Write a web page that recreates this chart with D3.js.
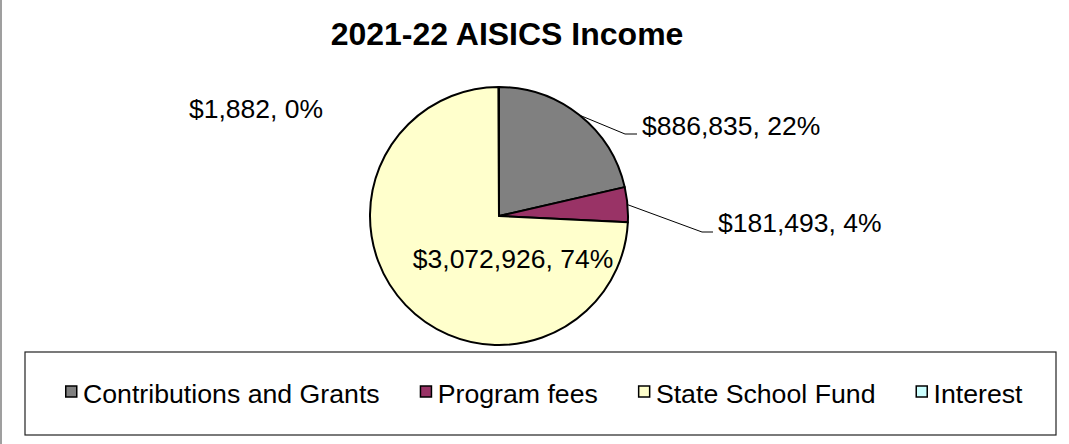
<!DOCTYPE html>
<html>
<head>
<meta charset="utf-8">
<script src="https://cdn.jsdelivr.net/npm/d3@7"></script>
<style>
  html, body { margin: 0; padding: 0; background: #fff; }
  svg { display: block; font-family: "Liberation Sans", Arial, sans-serif; }
</style>
</head>
<body>
<svg id="chart" width="1069" height="444"></svg>
<script>
// ---- data ----
const categories = ["Contributions and Grants", "Program fees", "State School Fund", "Interest"];
const values = [886835, 181493, 3072926, 1882];
const colors = ["#808080", "#993366", "#FFFFCC", "#CCFFFF"];
const title = "2021-22 AISICS Income";

// ---- layout ----
const W = 1069, H = 444;
const cx = 499, cy = 216, R = 129;
const svg = d3.select("#chart");

// outer chart border (only left edge visible)
svg.append("line").attr("x1", 1).attr("x2", 1).attr("y1", 0).attr("y2", H)
  .attr("stroke", "#7f7f7f").attr("stroke-width", 1.5);

svg.append("text").attr("x", 507).attr("y", 45)
  .attr("text-anchor", "middle").attr("font-weight", "bold")
  .attr("font-size", 32).attr("fill", "#000").text(title);

// percentages (largest remainder so they sum to 100)
const total = d3.sum(values);
const raw = values.map(v => v / total * 100);
const pct = raw.map(Math.floor);
let remaining = 100 - d3.sum(pct);
const order = d3.range(values.length).sort((a, b) => (raw[b] - pct[b]) - (raw[a] - pct[a]));
for (let k = 0; k < remaining; k++) pct[order[k]] += 1;
const fmt = d3.format("$,");
const labelText = values.map((v, i) => `${fmt(v)}, ${pct[i]}%`);

const pie = d3.pie().sort(null).value(d => d).startAngle(0).endAngle(2 * Math.PI);
const arcs = pie(values);
const arc = d3.arc().innerRadius(0).outerRadius(R);

const g = svg.append("g").attr("transform", `translate(${cx},${cy})`);
g.selectAll("path.slice").data(arcs).join("path")
  .attr("class", "slice")
  .attr("d", arc)
  .attr("fill", (d, i) => colors[i])
  .attr("stroke", "#000").attr("stroke-width", 2).attr("stroke-linejoin", "round");

// label placement (relative to pie centre): elbow point and text anchor
const labelLayout = [
  { elbow: [126, -82], end: [138, -82], text: [143, -81], leader: true, anchor: "start" },
  { elbow: [203, 16], end: [214, 16], text: [219, 16], leader: true, anchor: "start" },
  { text: [14, 52], leader: false, anchor: "middle" },
  { text: [-310, -98], leader: false, anchor: "start" }
];

arcs.forEach((d, i) => {
  const L = labelLayout[i];
  if (L.leader) {
    const mid = (d.startAngle + d.endAngle) / 2;
    const p0 = [R * Math.sin(mid), -R * Math.cos(mid)];
    g.append("polyline")
      .attr("points", [p0, L.elbow, L.end].map(p => p.join(",")).join(" "))
      .attr("fill", "none").attr("stroke", "#000").attr("stroke-width", 1);
  }
  g.append("text")
    .attr("x", L.text[0]).attr("y", L.text[1])
    .attr("text-anchor", L.anchor)
    .attr("font-size", 26.5).attr("fill", "#000")
    .text(labelText[i]);
});

// legend
const lg = svg.append("g");
lg.append("rect").attr("x", 25).attr("y", 352).attr("width", 1031).attr("height", 83)
  .attr("fill", "#fff").attr("stroke", "#222").attr("stroke-width", 1.2);

let x = 65;
categories.forEach((c, i) => {
  lg.append("rect").attr("x", x + 0.75).attr("y", 386).attr("width", 11).attr("height", 11)
    .attr("fill", colors[i]).attr("stroke", "#000").attr("stroke-width", 1.5);
  const t = lg.append("text").attr("x", x + 18).attr("y", 403)
    .attr("font-size", 26.7).attr("fill", "#000").text(c);
  const w = t.node().getComputedTextLength();
  x = x + 18 + w + 40;
});
</script>
</body>
</html>
